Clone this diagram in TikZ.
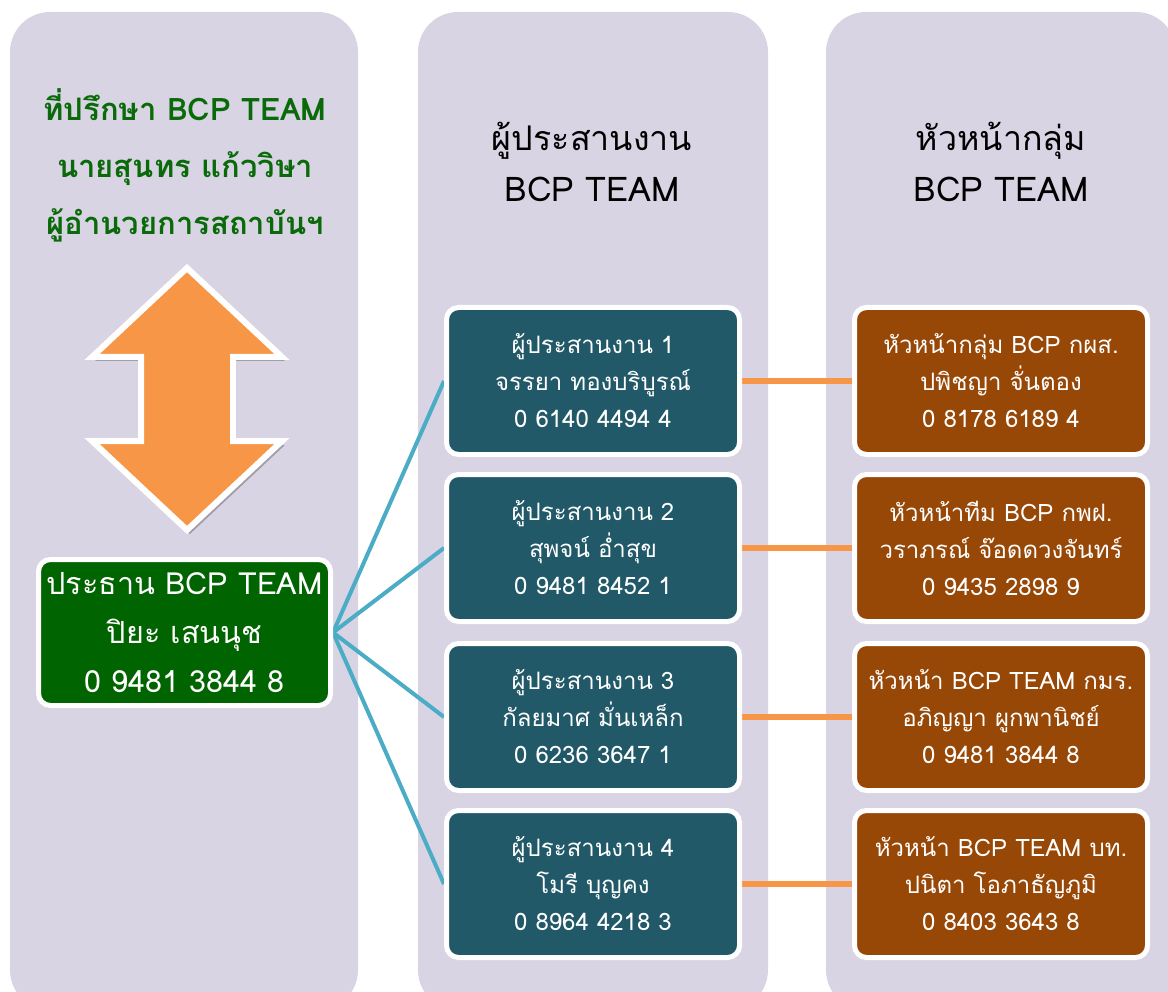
\documentclass[tikz,border=0pt]{standalone}
\usepackage{fontspec}
\setmainfont[Script=Thai]{Loma}
\usetikzlibrary{backgrounds,shadows}
\definecolor{panelc}{HTML}{D8D4E3}
\definecolor{hgreen}{HTML}{0A6A0A}
\definecolor{boxgreen}{HTML}{006400}
\definecolor{tealc}{HTML}{215968}
\definecolor{brownc}{HTML}{974706}
\definecolor{orangec}{HTML}{F79646}
\definecolor{bluec}{HTML}{4BACC6}
\tikzset{
  panel/.style={fill=panelc, rounded corners=40pt},
  cardbox/.style={draw=white, line width=5pt, rounded corners=12pt, text=white,
    align=center, minimum width=293pt, minimum height=147pt, inner sep=0pt,
    font=\fontsize{24}{37}\selectfont},
  tealbox/.style={cardbox, fill=tealc},
  brownbox/.style={cardbox, fill=brownc},
  chairbox/.style={cardbox, fill=boxgreen, minimum width=292pt, minimum height=146pt,
    font=\fontsize{30.5}{49}\selectfont},
  header/.style={align=center, text=black, font=\fontsize{34}{51}\selectfont},
  greenhead/.style={align=center, text=hgreen, font=\bfseries\fontsize{31}{57}\selectfont},
  blueline/.style={draw=bluec, line width=4pt},
  orangeline/.style={draw=orangec, line width=6pt},
  bigarrow/.style={fill=orangec, draw=white, line width=6pt, line join=miter,
    drop shadow={shadow xshift=3pt, shadow yshift=-4pt, opacity=0.25, fill=black}}
}
\begin{document}
\begin{tikzpicture}[x=1pt,y=-1pt]
\useasboundingbox (0,0) rectangle (1168,992);
% headers
\node[greenhead] (h1) at (185,165) {ที่ปรึกษา BCP TEAM\\นายสุนทร แก้ววิษา\\ผู้อำนวยการสถาบันฯ};
\node[header] (h2) at (592,162) {ผู้ประสานงาน\\BCP TEAM};
\node[header] (h3) at (1001,162) {หัวหน้ากลุ่ม\\BCP TEAM};
% arrow
\path[bigarrow] (187,268) -- (282,357) -- (233,357) -- (233,441) -- (282,441)
  -- (187,530) -- (92,441) -- (141,441) -- (141,357) -- (92,357) -- cycle;
% chair
\node[chairbox] (chair) at (184.5,632.5) {ประธาน BCP TEAM\\ปิยะ เสนนุช\\0 9481 3844 8};
% coordinators
\node[tealbox] (c1) at (593,381) {ผู้ประสานงาน 1\\จรรยา ทองบริบูรณ์\\0 6140 4494 4};
\node[tealbox] (c2) at (593,548) {ผู้ประสานงาน 2\\สุพจน์ อ่ำสุข\\0 9481 8452 1};
\node[tealbox] (c3) at (593,717) {ผู้ประสานงาน 3\\กัลยมาศ มั่นเหล็ก\\0 6236 3647 1};
\node[tealbox] (c4) at (593,884) {ผู้ประสานงาน 4\\โมรี บุญคง\\0 8964 4218 3};
% heads
\node[brownbox] (g1) at (1001,381) {หัวหน้ากลุ่ม BCP กผส.\\ปพิชญา จั่นตอง\\0 8178 6189 4};
\node[brownbox] (g2) at (1001,548) {หัวหน้าทีม BCP กพฝ.\\วราภรณ์ จ๊อดดวงจันทร์\\0 9435 2898 9};
\node[brownbox] (g3) at (1001,717) {หัวหน้า BCP TEAM กมร.\\อภิญญา ผูกพานิชย์\\0 9481 3844 8};
\node[brownbox] (g4) at (1001,884) {หัวหน้า BCP TEAM บท.\\ปนิตา โอภาธัญภูมิ\\0 8403 3643 8};
\begin{scope}[on background layer]
  \fill[panel] (10,12) rectangle (358,1010);
  \fill[panel] (418,12) rectangle (768,1010);
  \fill[panel] (826,12) rectangle (1176,1010);
  \foreach \i in {1,2,3,4} {
    \draw[blueline] (chair.east) -- (c\i.west);
    \draw[orangeline] (c\i.east) -- (g\i.west);
  }
\end{scope}
\end{tikzpicture}
\end{document}
